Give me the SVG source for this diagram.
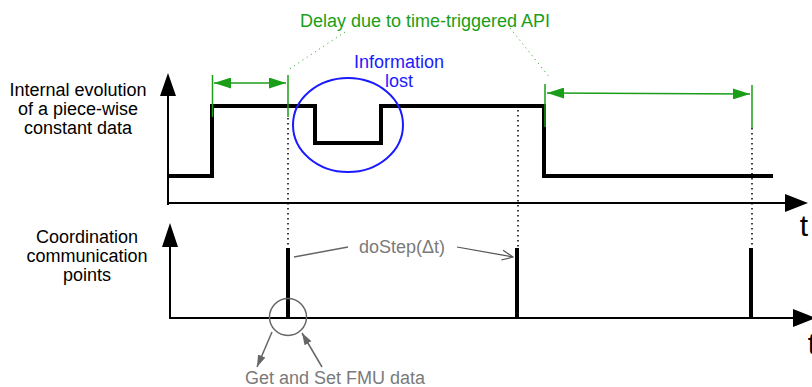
<svg xmlns="http://www.w3.org/2000/svg" width="812" height="387" viewBox="0 0 812 387">
<style>
text{font-family:"Liberation Sans",Arial,sans-serif;font-size:18px;text-anchor:middle}
.lbl{fill:#000}
.grn{fill:#1a9e1a}
.blu{fill:#1a1aff}
.gry{fill:#7a7a7a}
.axis{stroke:#000;stroke-width:2;fill:none}
.sig{stroke:#000;stroke-width:4;fill:none;stroke-linejoin:miter}
.dot{stroke:#000;stroke-width:1.5;stroke-dasharray:1.5 3.5;fill:none}
.gl{stroke:#1a9e1a;stroke-width:1.5;fill:none}
.gd{stroke:#1a9e1a;stroke-width:1;stroke-dasharray:1 4;fill:none}
.gr{stroke:#666;stroke-width:1.5;fill:none}
</style>
<defs>
<marker id="ga" viewBox="0 0 17 11" refX="17" refY="5.5" markerWidth="17" markerHeight="11" markerUnits="userSpaceOnUse" orient="auto-start-reverse"><path d="M0,0 L17,5.5 L0,11 z" fill="#1a9e1a"/></marker>
<marker id="gy" viewBox="0 0 12 10" refX="12" refY="5" markerWidth="12" markerHeight="10" markerUnits="userSpaceOnUse" orient="auto"><path d="M0,1 L12,5 L0,9 z" fill="#666"/></marker>
<marker id="op" viewBox="0 0 12 12" refX="11" refY="6" markerWidth="12" markerHeight="12" markerUnits="userSpaceOnUse" orient="auto"><path d="M0,1 L11,6 L0,11" fill="none" stroke="#555" stroke-width="1.2"/></marker>
</defs>

<g id="labels">
<text class="lbl" x="78" y="96">Internal evolution</text>
<text class="lbl" x="78" y="115">of a piece-wise</text>
<text class="lbl" x="78" y="134">constant data</text>
<text class="lbl" x="87" y="243">Coordination</text>
<text class="lbl" x="87" y="262">communication</text>
<text class="lbl" x="87" y="281">points</text>
<text class="lbl" x="804" y="236" style="font-size:30px">t</text>
<text class="lbl" x="812" y="354" style="font-size:30px">t</text>
</g>

<g id="axes">
<path class="axis" d="M168,205 L168,95"/>
<path d="M160,96 L168,73 L176,96 z" fill="#000"/>
<path class="axis" d="M167,203 L786,203"/>
<path d="M785,194 L808,203 L785,212 z" fill="#000"/>
<path class="axis" d="M170,318 L170,246"/>
<path d="M162,247 L170,223 L178,247 z" fill="#000"/>
<path class="axis" d="M169,318 L795,318"/>
<path d="M793,309 L816,318 L793,327 z" fill="#000"/>
</g>

<g id="signal">
<path class="sig" d="M168,176 L212,176 L212,106 L315,106 L315,143 L381,143 L381,106 L544,106 L544,176 L773,176"/>
</g>

<g id="pulses">
<path class="sig" d="M288,248 L288,318 M517,248 L517,318 M751,248 L751,318"/>
</g>

<g id="connectors">
<path class="dot" d="M288,118 L288,248 M518,110 L518,248 M752,128 L752,248"/>
<path class="gl" d="M212.5,75 L212.5,117 M288,75 L288,117 M545,84 L545,127 M752,85 L752,128"/>
<path class="gl" d="M214,83 L286,83" marker-start="url(#ga)" marker-end="url(#ga)"/>
<path class="gl" d="M547,93 L750,94" marker-start="url(#ga)" marker-end="url(#ga)"/>
<path class="gd" d="M345,32 L288,70 M510,28 L550,78"/>
<path class="gr" d="M294,257 L348,247"/>
<path d="M457,247 L513,257" stroke="#555" stroke-width="1.2" fill="none" marker-end="url(#op)"/>
<path class="gr" d="M272,332 L257,367" marker-end="url(#gy)"/>
<path class="gr" d="M322,367 L302,333" marker-end="url(#gy)"/>
</g>

<g id="lost">
<ellipse cx="348" cy="125" rx="55" ry="47" fill="none" stroke="#1a1aff" stroke-width="2"/>
<text class="blu" x="399" y="68">Information</text>
<text class="blu" x="399" y="87">lost</text>
</g>

<g id="fmu">
<circle cx="288" cy="317" r="18.5" fill="none" stroke="#666" stroke-width="1.5"/>
<text class="gry" x="335" y="384">Get and Set FMU data</text>
</g>

<g id="dostep">
<text class="gry" x="402" y="253">doStep(Δt)</text>
</g>

<g id="delay">
<text class="grn" x="425" y="27">Delay due to time-triggered API</text>
</g>
</svg>
